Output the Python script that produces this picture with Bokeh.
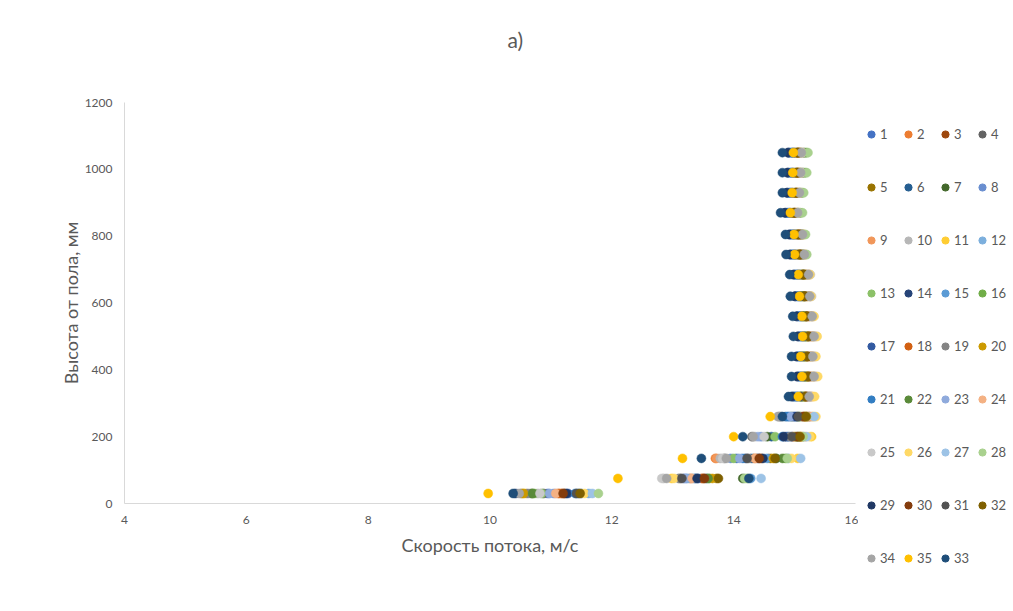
from bokeh.plotting import figure
from bokeh.models import Range1d, FixedTicker, Legend, LegendItem, Title
from bokeh.layouts import row
from bokeh.embed import file_html
from bokeh.resources import INLINE

# ---------------- data ----------------
heights = [30, 75, 135, 200, 260, 320, 380, 440, 500, 560, 620, 685, 745, 805, 870, 930, 990, 1050]

series_names = [str(i) for i in range(1, 33)] + ["34", "35", "33"]
series_colors = [
    "#4472C4", "#ED7D31", "#9E480E", "#636363", "#997300", "#255E91", "#43682B", "#698ED0",
    "#F1975A", "#B7B7B7", "#FFCD33", "#7CAFDD", "#8CC168", "#264478", "#5B9BD5", "#70AD47",
    "#335AA1", "#D26012", "#848484", "#CC9A00", "#327DC2", "#5A8A39", "#8FAADC", "#F4B183",
    "#C9C9C9", "#FFD966", "#9DC3E6", "#A9D18E", "#203864", "#843C0C", "#525252", "#7F6000",
    "#A5A5A5", "#FFC000", "#1F4E79",
]

# speed (m/s) of each series at each height, in the series order above
speed_h30 = [10.95, 11.15, 11.22, 10.88, 10.52, 11.45, 10.68, 11.05, 11.18, 10.78, 10.58, 11.62,
             10.85, 10.42, 11.50, 10.72, 11.28, 11.12, 10.62, 10.55, 11.40, 10.70, 10.98, 11.08,
             10.82, 11.55, 11.68, 11.78, 11.25, 11.20, 11.42, 11.48, 10.48, 9.97, 10.38]
speed_h75 = [13.22, 13.30, 13.48, 13.12, 13.72, 13.38, 14.15, 13.18, 13.28, 12.85, 12.98, 13.25,
             14.22, 13.55, 14.28, 13.60, 13.42, 13.50, 13.10, 13.65, 13.35, 13.58, 13.20, 13.32,
             12.82, 13.02, 14.45, 14.18, 13.40, 13.52, 13.15, 13.75, 12.90, 12.10, 14.25]
speed_h135 = [14.05, 13.70, 14.45, 13.85, 14.60, 14.30, 14.70, 13.95, 13.72, 13.78, 15.05, 14.90,
              14.00, 14.40, 14.55, 14.85, 14.20, 14.35, 14.25, 14.65, 14.15, 14.80, 14.10, 14.35,
              13.82, 14.95, 15.10, 14.88, 14.48, 14.42, 14.22, 14.68, 13.88, 13.16, 13.47]
speed_h200 = [14.95, 15.00, 15.05, 14.30, 15.08, 14.62, 14.55, 14.45, 14.98, 14.35, 15.28, 15.15,
              14.68, 14.85, 14.90, 15.02, 14.88, 15.10, 14.92, 15.12, 14.80, 15.06, 14.40, 15.18,
              14.50, 15.25, 15.20, 15.14, 14.82, 15.04, 14.96, 15.09, 14.32, 14.00, 14.15]
speed_h260 = [15.00, 15.20, 15.15, 14.78, 15.18, 14.85, 14.95, 14.90, 15.22, 14.72, 15.30, 15.25,
              15.05, 14.98, 14.92, 15.10, 15.02, 15.24, 14.75, 15.16, 14.88, 15.08, 14.94, 15.28,
              15.12, 15.35, 15.32, 15.20, 15.04, 15.14, 15.06, 15.19, 14.74, 14.60, 14.80]
speed_h320 = [15.05, 15.22, 15.18, 15.12, 15.16, 14.95, 15.10, 15.02, 15.24, 15.28, 15.30, 15.20,
              15.08, 14.98, 15.00, 15.14, 15.04, 15.20, 15.26, 15.17, 15.01, 15.12, 15.06, 15.28,
              15.25, 15.33, 15.22, 15.15, 14.96, 15.19, 15.10, 15.18, 15.24, 15.06, 14.90]
speed_h380 = [15.12, 15.25, 15.20, 15.18, 15.22, 15.05, 15.16, 15.10, 15.28, 15.33, 15.30, 15.24,
              15.14, 15.06, 15.08, 15.19, 15.11, 15.26, 15.31, 15.21, 15.09, 15.17, 15.13, 15.34,
              15.36, 15.38, 15.27, 15.20, 15.04, 15.23, 15.15, 15.22, 15.32, 15.12, 14.95]
speed_h440 = [15.10, 15.24, 15.19, 15.16, 15.20, 15.04, 15.14, 15.09, 15.27, 15.31, 15.28, 15.22,
              15.12, 15.05, 15.07, 15.17, 15.10, 15.25, 15.29, 15.19, 15.08, 15.16, 15.11, 15.32,
              15.34, 15.35, 15.26, 15.18, 15.03, 15.21, 15.13, 15.21, 15.30, 15.10, 14.95]
speed_h500 = [15.13, 15.26, 15.21, 15.18, 15.22, 15.06, 15.16, 15.11, 15.29, 15.33, 15.30, 15.24,
              15.14, 15.07, 15.09, 15.19, 15.12, 15.27, 15.31, 15.21, 15.10, 15.18, 15.13, 15.34,
              15.36, 15.37, 15.28, 15.20, 15.05, 15.23, 15.15, 15.23, 15.32, 15.13, 14.98]
speed_h560 = [15.11, 15.22, 15.18, 15.15, 15.19, 15.04, 15.14, 15.09, 15.25, 15.29, 15.26, 15.20,
              15.12, 15.05, 15.07, 15.17, 15.10, 15.23, 15.28, 15.18, 15.08, 15.16, 15.11, 15.30,
              15.31, 15.32, 15.24, 15.19, 15.03, 15.20, 15.13, 15.20, 15.29, 15.12, 14.97]
speed_h620 = [15.08, 15.19, 15.15, 15.12, 15.16, 15.01, 15.12, 15.06, 15.22, 15.26, 15.22, 15.17,
              15.10, 15.02, 15.04, 15.16, 15.07, 15.20, 15.25, 15.15, 15.05, 15.14, 15.09, 15.26,
              15.28, 15.27, 15.21, 15.18, 15.00, 15.17, 15.10, 15.17, 15.25, 15.08, 14.93]
speed_h685 = [15.06, 15.17, 15.13, 15.10, 15.14, 14.99, 15.12, 15.04, 15.19, 15.23, 15.20, 15.15,
              15.09, 15.00, 15.02, 15.16, 15.05, 15.18, 15.22, 15.13, 15.03, 15.14, 15.07, 15.24,
              15.26, 15.25, 15.19, 15.17, 14.98, 15.15, 15.08, 15.15, 15.23, 15.06, 14.92]
speed_h745 = [15.00, 15.10, 15.07, 15.04, 15.08, 14.93, 15.10, 14.98, 15.12, 15.16, 15.13, 15.09,
              15.05, 14.94, 14.96, 15.14, 14.99, 15.11, 15.15, 15.06, 14.97, 15.12, 15.01, 15.17,
              15.19, 15.18, 15.13, 15.20, 14.92, 15.09, 15.02, 15.08, 15.16, 15.00, 14.86]
speed_h805 = [14.99, 15.08, 15.05, 15.03, 15.06, 14.92, 15.10, 14.97, 15.10, 15.13, 15.11, 15.07,
              15.04, 14.93, 14.95, 15.14, 14.98, 15.09, 15.12, 15.05, 14.96, 15.12, 15.00, 15.14,
              15.16, 15.15, 15.11, 15.18, 14.91, 15.07, 15.01, 15.07, 15.13, 14.99, 14.85]
speed_h870 = [14.92, 15.01, 14.98, 14.96, 14.99, 14.85, 15.06, 14.90, 15.02, 15.05, 15.03, 15.00,
              14.99, 14.86, 14.88, 15.10, 14.91, 15.02, 15.04, 14.98, 14.89, 15.08, 14.93, 15.06,
              15.07, 15.05, 15.04, 15.13, 14.84, 15.00, 14.94, 15.00, 15.05, 14.93, 14.77]
speed_h930 = [14.95, 15.04, 15.01, 14.99, 15.02, 14.88, 15.09, 14.93, 15.05, 15.08, 15.06, 15.03,
              15.02, 14.89, 14.91, 15.13, 14.94, 15.05, 15.07, 15.01, 14.92, 15.11, 14.96, 15.09,
              15.10, 15.08, 15.07, 15.15, 14.87, 15.03, 14.97, 15.03, 15.08, 14.96, 14.80]
speed_h990 = [14.97, 15.06, 15.03, 15.01, 15.04, 14.89, 15.13, 14.95, 15.07, 15.10, 15.08, 15.05,
              15.05, 14.90, 14.93, 15.18, 14.96, 15.07, 15.09, 15.03, 14.94, 15.15, 14.98, 15.11,
              15.12, 15.10, 15.09, 15.20, 14.88, 15.05, 14.99, 15.04, 15.10, 14.97, 14.80]
speed_h1050 = [14.98, 15.07, 15.04, 15.02, 15.05, 14.90, 15.15, 14.96, 15.08, 15.11, 15.09, 15.06,
               15.07, 14.91, 14.94, 15.20, 14.97, 15.08, 15.10, 15.04, 14.95, 15.17, 14.99, 15.12,
               15.13, 15.11, 15.10, 15.22, 14.89, 15.06, 15.00, 15.05, 15.11, 14.98, 14.80]

speed_rows = [speed_h30, speed_h75, speed_h135, speed_h200, speed_h260, speed_h320, speed_h380,
              speed_h440, speed_h500, speed_h560, speed_h620, speed_h685, speed_h745, speed_h805,
              speed_h870, speed_h930, speed_h990, speed_h1050]

x_ticks = [4, 6, 8, 10, 12, 14, 16]
y_ticks = [0, 200, 400, 600, 800, 1000, 1200]

# ---------------- main figure ----------------
FONT = "Lato"
TXT = "#595959"

p = figure(width=858, height=600, output_backend="svg", toolbar_location=None,
           x_range=Range1d(4, 16), y_range=Range1d(0, 1200),
           min_border_left=124, min_border_right=3, min_border_top=102, min_border_bottom=97)

p.title.text = "a)"
p.title.text_font = FONT
p.title.text_font_size = "21px"
p.title.text_font_style = "normal"
p.title.text_color = TXT
p.title.align = "left"
p.title.offset = 383
p.title.standoff = 10

# empty spacer between the title and the plot area
spacer = Title(text=" ", text_font_size="20px", standoff=22, text_color="white")
p.add_layout(spacer, "above")

p.outline_line_color = None
p.grid.visible = False
p.background_fill_color = "white"
p.border_fill_color = "white"

for ax in (p.xaxis[0], p.yaxis[0]):
    ax.axis_line_color = "#D9D9D9"
    ax.axis_line_width = 1
    ax.major_tick_line_color = None
    ax.minor_tick_line_color = None
    ax.major_tick_in = 0
    ax.major_tick_out = 0
    ax.major_label_text_color = TXT
    ax.major_label_text_font = FONT
    ax.major_label_text_font_size = "12px"
    ax.axis_label_text_color = TXT
    ax.axis_label_text_font = FONT
    ax.axis_label_text_font_size = "18px"
    ax.axis_label_text_font_style = "normal"

p.xaxis.ticker = FixedTicker(ticks=x_ticks)
p.yaxis.ticker = FixedTicker(ticks=y_ticks)
p.xaxis.axis_label = "Скорость потока, м/с"
p.yaxis.axis_label = "Высота от пола, мм"
p.xaxis.major_label_standoff = 12
p.xaxis.axis_label_standoff = 7
p.yaxis.major_label_standoff = 12
p.yaxis.axis_label_standoff = 0

for j, col in enumerate(series_colors):
    xs = [row_vals[j] for row_vals in speed_rows]
    p.scatter(x=xs, y=heights, size=9, fill_color=col, line_color=col, line_width=0.5)

# ---------------- legend panel ----------------
lg = figure(width=152, height=600, output_backend="svg", toolbar_location=None,
            x_range=Range1d(0, 1), y_range=Range1d(0, 1),
            x_axis_location=None, y_axis_location=None, title_location=None,
            min_border=0, min_border_left=0, min_border_right=0,
            min_border_top=0, min_border_bottom=0)
lg.frame_align = False
lg.outline_line_color = None
lg.grid.visible = False
lg.xgrid.visible = False
lg.ygrid.visible = False
lg.background_fill_color = "white"
lg.border_fill_color = "white"

nan = float("nan")
items = []
for name, col in zip(series_names, series_colors):
    # legend-only glyph: no visible point of its own
    r = lg.scatter(x=[nan], y=[nan], size=9, fill_color=col, line_color=col)
    items.append(LegendItem(label=name, renderers=[r]))

legend = Legend(items=items, orientation="horizontal", ncols=4,
                location=(4, 17),
                glyph_width=18, glyph_height=50, label_height=50, label_width=16,
                label_standoff=0, spacing=3, padding=0, margin=0,
                border_line_alpha=0, background_fill_alpha=0,
                label_text_font=FONT, label_text_font_size="13px", label_text_color=TXT)
lg.add_layout(legend, "center")

layout = row(p, lg, spacing=0)
open("out.html", "w").write(file_html(layout, INLINE))
